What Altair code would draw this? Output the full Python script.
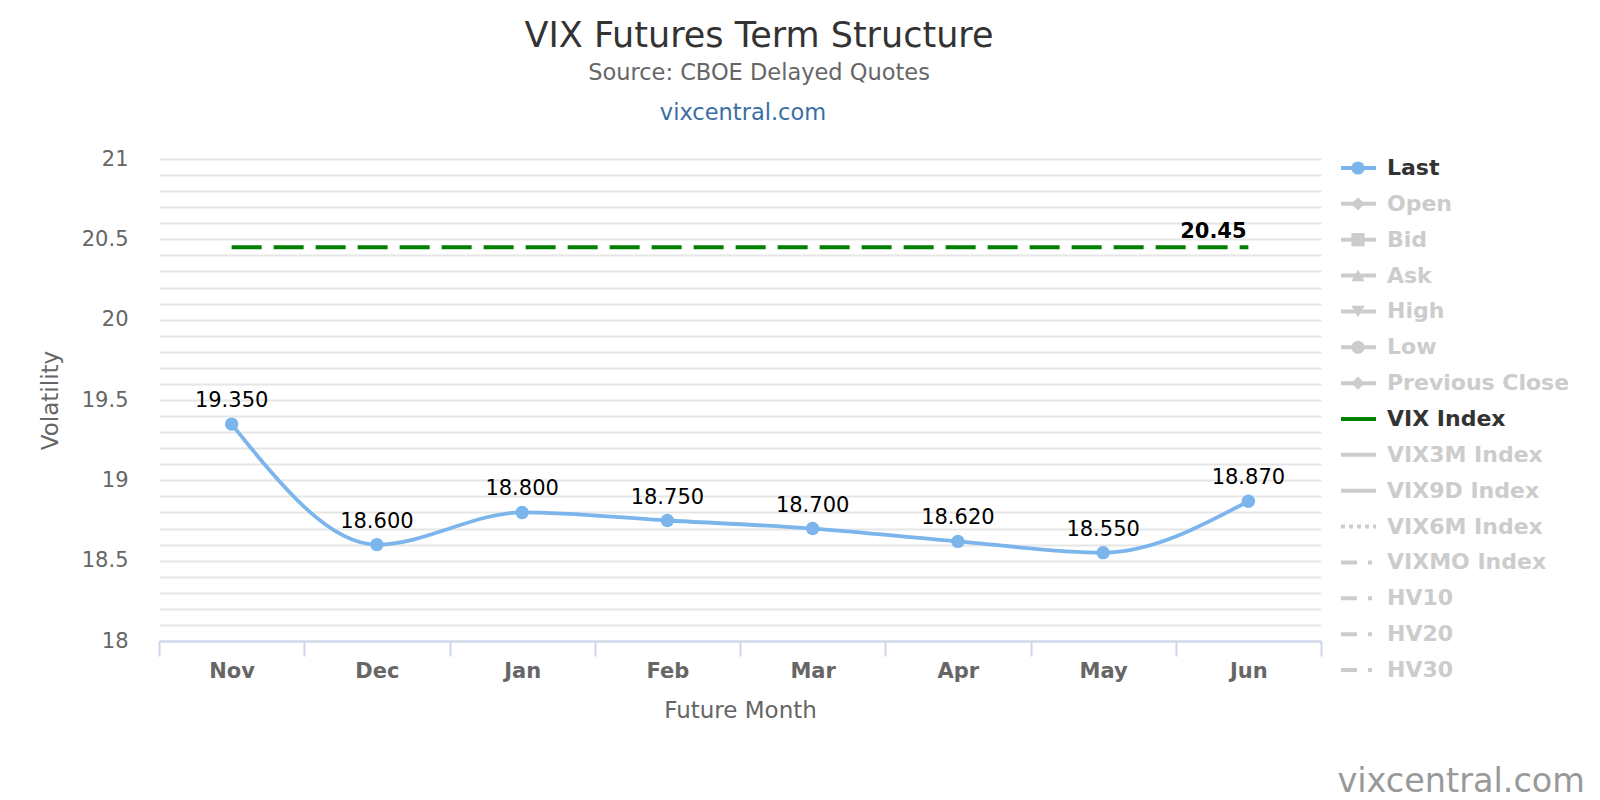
import json
import altair as alt
import pandas as pd

# ---------------- data ----------------
months = ["Nov", "Dec", "Jan", "Feb", "Mar", "Apr", "May", "Jun"]
last_values = [19.35, 18.60, 18.80, 18.75, 18.70, 18.62, 18.55, 18.87]
vix_values = [20.45, 20.45, 20.45, 20.45, 20.45, 20.45, 20.45, 20.45]

y_grid_values = [18.0, 18.1, 18.2, 18.3, 18.4, 18.5, 18.6, 18.7, 18.8, 18.9,
                 19.0, 19.1, 19.2, 19.3, 19.4, 19.5, 19.6, 19.7, 19.8, 19.9,
                 20.0, 20.1, 20.2, 20.3, 20.4, 20.5, 20.6, 20.7, 20.8, 20.9, 21.0]
y_label_values = ["18", "18.5", "19", "19.5", "20", "20.5", "21"]

legend_items = ["Last", "Open", "Bid", "Ask", "High", "Low", "Previous Close",
                "VIX Index", "VIX3M Index", "VIX9D Index", "VIX6M Index",
                "VIXMO Index", "HV10", "HV20", "HV30"]
legend_markers = ["circle", "diamond", "square", "triangle-up", "triangle-down",
                  "circle", "diamond", "", "", "", "", "", "", "", ""]
legend_lines = ["solid"] * 10 + ["dot"] + ["dashdot"] * 4
visible_series = ["Last", "VIX Index"]

df = pd.DataFrame({"month": months, "last": last_values, "vix": vix_values})
df_leg = pd.DataFrame({"item": legend_items, "marker": legend_markers, "line": legend_lines})

FONT = "DejaVu Sans"
BLUE = "#7cb5ec"
GREEN = "#008000"
GREY = "#cccccc"

# ---------------- main plot ----------------
x_enc = alt.X(
    "month:O", sort=months, bandPosition=0.5,
    scale=alt.Scale(type="band", paddingInner=0, paddingOuter=0),
    axis=alt.Axis(
        title="Future Month", labelAngle=0, tickBand="extent", grid=False,
        domainColor="#ccd6eb", domainWidth=2, tickColor="#ccd6eb", tickWidth=2,
        tickSize=15, labelPadding=4, labelFontSize=21, labelFontWeight="bold",
        labelColor="#666666", titleFontSize=23, titleFontWeight="normal",
        titleColor="#666666", titlePadding=18,
    ),
)

y_scale = alt.Scale(domain=[18, 21], nice=False, zero=False)
label_expr = (
    "indexof(" + json.dumps(y_label_values).replace('"', "'") +
    ", format(datum.value, '~g')) >= 0 ? format(datum.value, '~g') : ''"
)
y_enc = alt.Y(
    "last:Q", scale=y_scale,
    axis=alt.Axis(
        values=y_grid_values, tickCount=len(y_grid_values), labelExpr=label_expr,
        labelOverlap=False, domain=False, ticks=False,
        gridColor="#e6e6e6", gridWidth=1.8, labelFontSize=21, labelColor="#666666",
        labelPadding=31, title="Volatility", titleFontSize=23,
        titleFontWeight="normal", titleColor="#666666", titlePadding=19,
    ),
)
y_vix = alt.Y("vix:Q", scale=y_scale, title="Volatility")

base = alt.Chart(df)

vix_line = base.mark_line(color=GREEN, strokeWidth=4, strokeDash=[30, 12]).encode(x=x_enc, y=y_vix)
vix_label = base.transform_filter(alt.datum.month == months[-1]).mark_text(
    fontSize=21, fontWeight="bold", color="#000000", dx=-35, dy=-15
).encode(x=x_enc, y=y_vix, text=alt.Text("vix:Q", format=".2f"))

last_line = base.mark_line(color=BLUE, strokeWidth=3.8, interpolate="monotone").encode(x=x_enc, y=y_enc)
last_pts = base.mark_circle(color=BLUE, size=180, opacity=1).encode(x=x_enc, y=y_enc)
last_lbl = base.mark_text(fontSize=21, color="#000000", dy=-23).encode(
    x=x_enc, y=y_enc, text=alt.Text("last:Q", format=".3f")
)

main = alt.layer(vix_line, vix_label, last_line, last_pts, last_lbl)

# ---------------- legend (right side) ----------------
leg_y = alt.Y("item:N", sort=legend_items,
              scale=alt.Scale(type="point", domain=legend_items, range=[9, 511], padding=0),
              axis=None)
sym_colors = [BLUE if it == "Last" else GREEN if it == "VIX Index" else GREY for it in legend_items]
leg_color = alt.Color("item:N", scale=alt.Scale(domain=legend_items, range=sym_colors), legend=None)

leg_base = alt.Chart(df_leg)
SX1, SX2, SXC, TX = 1182, 1217, 1199, 1228

leg_solid = leg_base.transform_filter(alt.datum.line == "solid").mark_rule(strokeWidth=4).encode(
    x=alt.value(SX1), x2=alt.value(SX2), y=leg_y, color=leg_color)
leg_dot = leg_base.transform_filter(alt.datum.line == "dot").mark_rule(
    strokeWidth=4, strokeDash=[4, 4]).encode(
    x=alt.value(SX1), x2=alt.value(SX2), y=leg_y, color=leg_color)
leg_dashdot = leg_base.transform_filter(alt.datum.line == "dashdot").mark_rule(
    strokeWidth=4, strokeDash=[16, 11, 4, 11]).encode(
    x=alt.value(SX1), x2=alt.value(SX2), y=leg_y, color=leg_color)
leg_marker = leg_base.transform_filter(alt.datum.marker != "").mark_point(
    filled=True, size=175, opacity=1).encode(
    x=alt.value(SXC), y=leg_y, color=leg_color, shape=alt.Shape("marker:N", scale=None))
leg_text = leg_base.mark_text(align="left", baseline="middle", fontSize=22, fontWeight="bold").encode(
    x=alt.value(TX), y=leg_y, text="item:N",
    color=alt.condition(alt.FieldOneOfPredicate(field="item", oneOf=visible_series),
                        alt.value("#333333"), alt.value(GREY)))

link = alt.Chart(pd.DataFrame({"t": ["vixcentral.com"]})).mark_text(
    fontSize=22.5, color="#3a6ea5", align="center", baseline="alphabetic"
).encode(x=alt.value(584), y=alt.value(-39), text="t:N")
watermark = alt.Chart(pd.DataFrame({"t": ["vixcentral.com"]})).mark_text(
    fontSize=33.5, color="#999999", align="right", baseline="alphabetic"
).encode(x=alt.value(1426), y=alt.value(633), text="t:N")

legend = alt.layer(leg_solid, leg_dot, leg_dashdot, leg_marker, leg_text, link, watermark)

chart = alt.layer(main, legend).resolve_scale(y="independent", color="independent").properties(
    width=1162,
    height=482,
    padding={"left": 31, "top": 10, "right": 5, "bottom": 0},
    title=alt.Title(
        "VIX Futures Term Structure",
        subtitle="Source: CBOE Delayed Quotes",
        fontSize=35, fontWeight="normal", color="#333333",
        subtitleFontSize=22.5, subtitleColor="#666666", subtitlePadding=8,
        anchor="middle", frame="group", dx=19, offset=18,
    ),
).configure(font=FONT).configure_view(strokeWidth=0)

chart.save("out.html", embed_options={"renderer": "svg", "actions": False})
